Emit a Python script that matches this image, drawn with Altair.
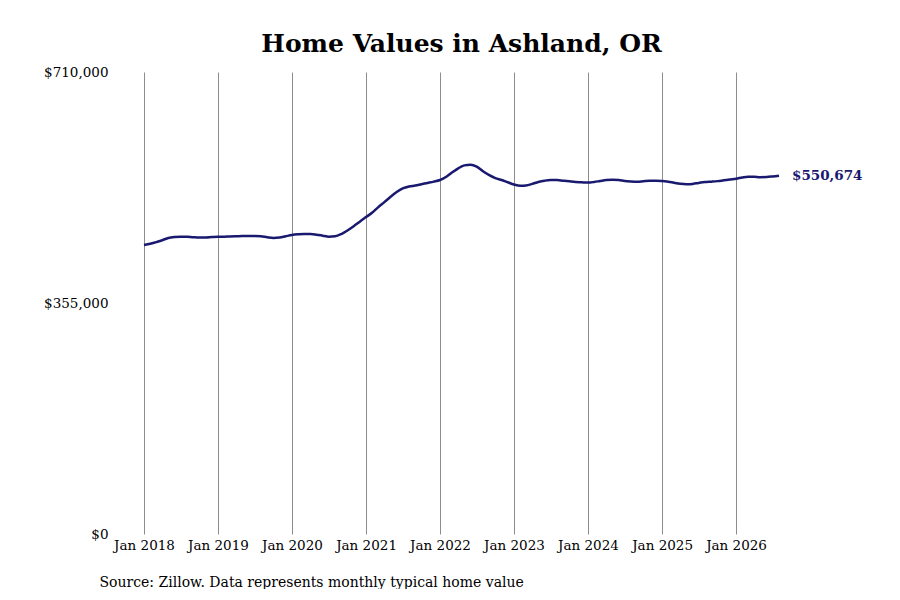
import altair as alt
import pandas as pd

# Valores mensais estimados (Jan 2018 - Ago 2026)
months = pd.date_range("2018-01-01", "2026-08-01", freq="MS")
values = [
    # 2018
    444000, 446000, 448500, 451500, 455000, 456500, 457000, 456800, 456000, 455500, 455800, 456300,
    # 2019
    456800, 457000, 457200, 457500, 457800, 458000, 458000, 457500, 456000, 455000, 455500, 457500,
    # 2020
    459500, 460500, 461000, 461000, 460000, 458500, 457000, 457500, 461000, 466500, 473000, 480000,
    # 2021
    487000, 494000, 502000, 510000, 518000, 525500, 531000, 534000, 535500, 537500, 539500, 541500,
    # 2022
    544000, 549000, 555500, 562000, 566500, 567500, 564500, 557500, 551500, 547000, 544000, 540500,
    # 2023
    537000, 535000, 535500, 538000, 541000, 543000, 544000, 544000, 543000, 542000, 541000, 540500,
    # 2024
    540000, 541000, 542500, 544000, 544500, 544000, 542500, 541800, 541500, 542200, 542800, 542800,
    # 2025
    542600, 541500, 539800, 538200, 537500, 538000, 539500, 540800, 541500, 542300, 543500, 544800,
    # 2026
    546000, 548000, 549200, 549000, 548400, 548600, 549500, 550674,
]
y_ticks = [0, 355000, 710000]
x_ticks = [f"{y}-01-01" for y in range(2018, 2027)]

df = pd.DataFrame({"date": months, "value": values})
last = df.tail(1)

FONT = "DejaVu Serif"
NAVY = "#191970"

x_enc = alt.X(
    "date:T",
    scale=alt.Scale(domain=["2017-08-01", "2027-01-01"], nice=False),
    axis=alt.Axis(
        values=x_ticks,
        format="%b %Y",
        grid=True,
        gridColor="#8c8c8c",
        gridOpacity=1,
        ticks=False,
        domain=False,
        labelPadding=4,
        labelFontSize=13.5,
        labelColor="#000",
        title="Source: Zillow. Data represents monthly typical home value",
        titleFontSize=14,
        titleFontWeight="normal",
        titleColor="#000",
        titleAlign="left",
        titleBaseline="middle",
        titleX=-14,
        titleY=48,
    ),
)
y_enc = alt.Y(
    "value:Q",
    scale=alt.Scale(domain=[0, 710000], nice=False),
    axis=alt.Axis(
        values=y_ticks,
        format="$,.0f",
        grid=False,
        ticks=False,
        domain=False,
        labelPadding=5,
        labelFontSize=13.5,
        labelColor="#000",
        title=None,
    ),
)

line = alt.Chart(df).mark_line(
    color=NAVY, strokeWidth=2.5, interpolate="monotone"
).encode(x=x_enc, y=y_enc)

label = alt.Chart(last).mark_text(
    align="left", baseline="middle", dx=13, fontSize=13.5,
    fontWeight="bold", color=NAVY, font=FONT
).encode(x="date:T", y="value:Q", text=alt.Text("value:Q", format="$,.0f"))

chart = alt.layer(line, label).properties(
    width=697,
    height=462,
    padding={"left": 35, "top": 24, "right": 5, "bottom": 0},
    title=alt.TitleParams(
        "Home Values in Ashland, OR",
        font=FONT, fontSize=25, fontWeight="bold", color="#000",
        anchor="middle", frame="group", offset=8,
    ),
).configure(font=FONT).configure_view(stroke=None).configure_axis(
    labelFont=FONT, titleFont=FONT
)

chart.save("out.html", embed_options={"renderer": "svg", "actions": False})
